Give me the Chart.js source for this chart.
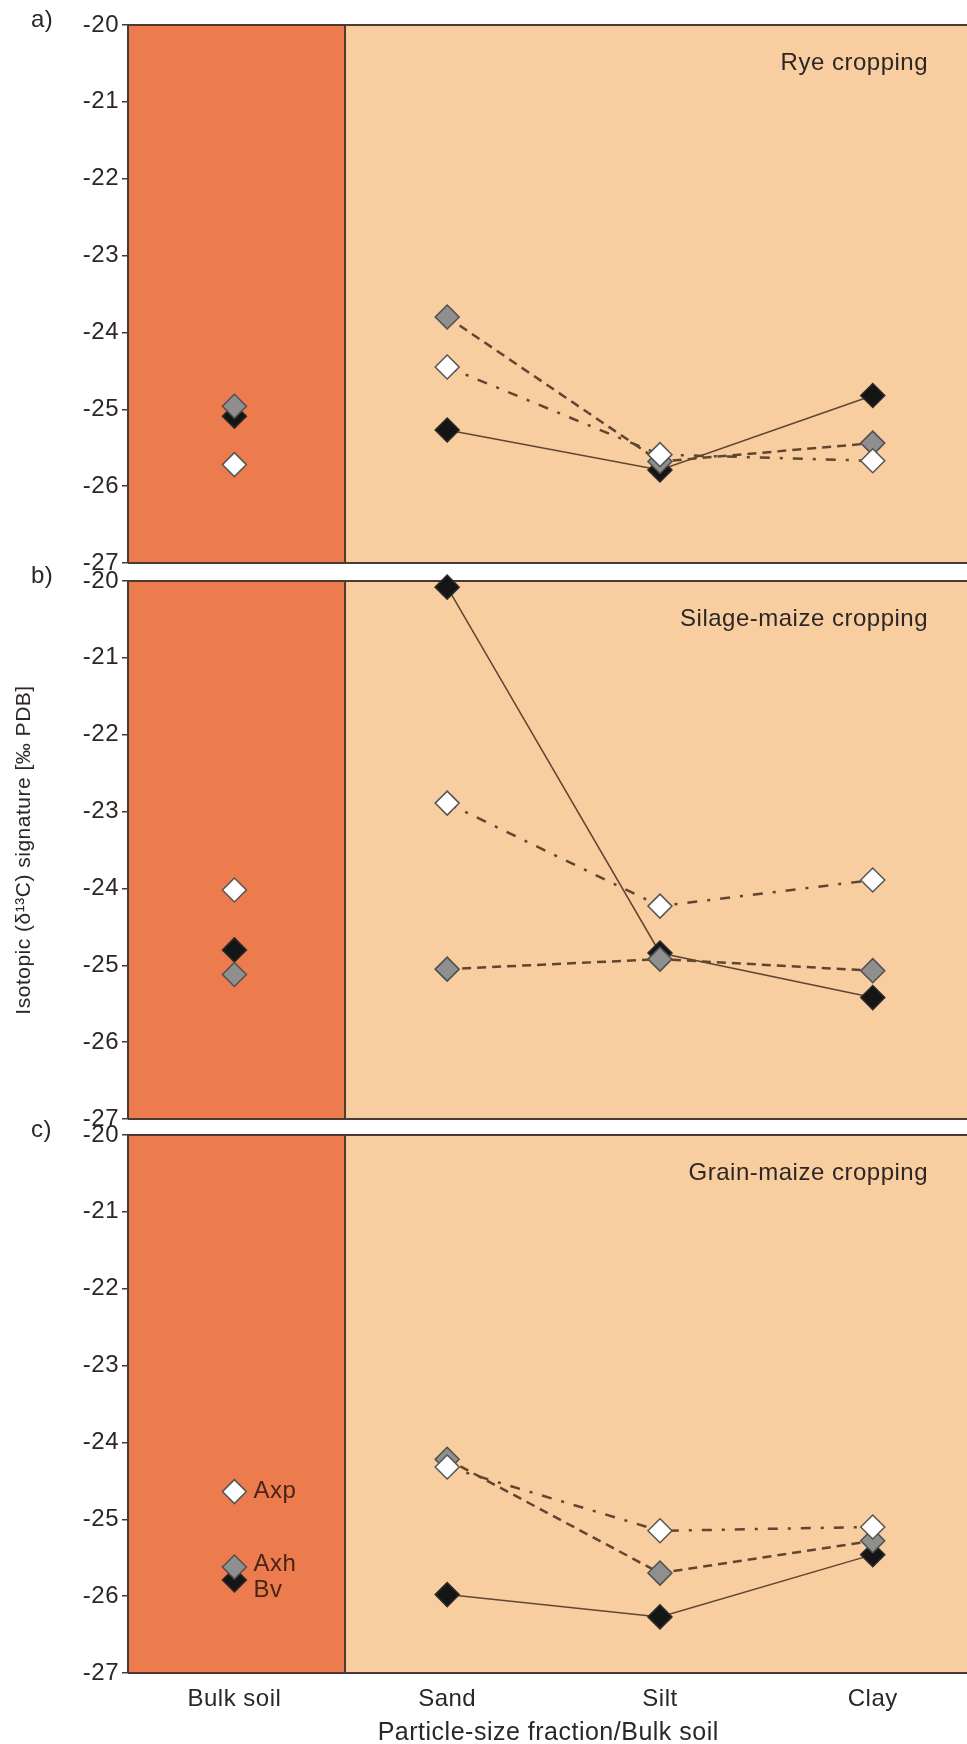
<!DOCTYPE html>
<html>
<head>
<meta charset="utf-8">
<script src="https://cdn.jsdelivr.net/npm/chart.js@4.4.1/dist/chart.umd.min.js"></script>
<style>
    html, body { margin: 0; padding: 0; background: #ffffff; width: 967px; height: 1744px; overflow: hidden; }
    .panel { position: absolute; left: 0; }
    canvas { display: block; }
</style>
</head>
<body>
<div class="panel" style="top:5px"><canvas id="panelA" width="982" height="578"></canvas></div>
<div class="panel" style="top:561px"><canvas id="panelB" width="982" height="578"></canvas></div>
<div class="panel" style="top:1115px"><canvas id="panelC" width="982" height="645"></canvas></div>
<script>
// Datos
const categories = ['Bulk soil', 'Sand', 'Silt', 'Clay'];
const panelTitles = ['Rye cropping', 'Silage-maize cropping', 'Grain-maize cropping'];
const panelLetters = ['a)', 'b)', 'c)'];
const horizons = ['Axp', 'Axh', 'Bv'];
const yTicks = [-20, -21, -22, -23, -24, -25, -26, -27];

// orden: Bulk soil, Sand, Silt, Clay
const ryeAxp = [-25.72, -24.45, -25.59, -25.67];
const ryeAxh = [-24.96, -23.80, -25.68, -25.44];
const ryeBv = [-25.09, -25.27, -25.79, -24.82];

const silageAxp = [-24.02, -22.89, -24.23, -23.89];
const silageAxh = [-25.12, -25.05, -24.92, -25.07];
const silageBv = [-24.80, -20.08, -24.84, -25.42];

const grainAxp = [-24.64, -24.32, -25.15, -25.10];
const grainAxh = [-25.62, -24.22, -25.70, -25.28];
const grainBv = [-25.79, -25.98, -26.27, -25.46];

const panelData = [
    { Axp: ryeAxp, Axh: ryeAxh, Bv: ryeBv },
    { Axp: silageAxp, Axh: silageAxh, Bv: silageBv },
    { Axp: grainAxp, Axh: grainAxh, Bv: grainBv }
];

// Estilos
const bulkColor = '#ec7c4d';
const fractionColor = '#f8cda0';
const frameColor = '#4a3b32';
const lineColor = '#604630';
const textColor = '#2c2724';
const bulkSplit = 0.52;
const fontFamily = "'Liberation Sans', Arial, sans-serif";

const horizonStyles = {
    Axp: { fill: '#ffffff', border: '#555555', dash: [10, 10, 3, 10], width: 2.5, order: 1, labelDy: 0 },
    Axh: { fill: '#8f8f8f', border: '#4f4f4f', dash: [9, 6], width: 2.5, order: 2, labelDy: -3 },
    Bv: { fill: '#151515', border: '#2a2a2a', dash: [], width: 1.5, order: 3, labelDy: 10 }
};

Chart.defaults.font.family = fontFamily;
Chart.defaults.color = textColor;

const panelPlugin = {
    id: 'panelDecor',
    beforeDraw(chart, args, opts) {
        const { ctx, chartArea: a, scales: { x } } = chart;
        const split = x.getPixelForValue(bulkSplit);
        // el texto original es más ancho: un poco de espaciado
        ctx.letterSpacing = '0.5px';
        ctx.save();
        ctx.fillStyle = bulkColor;
        ctx.fillRect(a.left, a.top, split - a.left, a.bottom - a.top);
        ctx.fillStyle = fractionColor;
        ctx.fillRect(split, a.top, a.right - split, a.bottom - a.top);
        ctx.restore();
    },
    beforeDatasetsDraw(chart) {
        const { ctx, chartArea: a, scales: { x } } = chart;
        const split = x.getPixelForValue(bulkSplit);
        ctx.save();
        ctx.strokeStyle = frameColor;
        ctx.lineWidth = 2;
        ctx.beginPath();
        ctx.moveTo(a.left, a.top);
        ctx.lineTo(a.right, a.top);
        ctx.moveTo(a.left, a.bottom);
        ctx.lineTo(a.right, a.bottom);
        ctx.moveTo(split, a.top);
        ctx.lineTo(split, a.bottom);
        ctx.stroke();
        ctx.restore();
    },
    afterDraw(chart, args, opts) {
        const { ctx, chartArea: a } = chart;
        ctx.save();
        ctx.fillStyle = textColor;
        ctx.font = '24px ' + fontFamily;
        ctx.textBaseline = 'middle';
        ctx.textAlign = 'right';
        ctx.fillText(opts.title, 928, a.top + 38);
        ctx.textAlign = 'left';
        ctx.fillText(opts.letter, 31, a.top - 5);

        // Etiquetas de horizontes junto a los puntos de suelo total
        if (opts.showLabels) {
            ctx.fillStyle = '#4a2418';
            chart.data.datasets.forEach((ds, i) => {
                const pt = chart.getDatasetMeta(i).data[0];
                ctx.fillText(ds.label, pt.x + 19, pt.y + horizonStyles[ds.label].labelDy);
            });
        }
        ctx.restore();
    }
};

function crearPanel(canvasId, index) {
    const datos = panelData[index];
    const esUltimo = index === 2;

    const datasets = horizons.map(h => {
        const st = horizonStyles[h];
        return {
            label: h,
            data: datos[h].map((v, i) => ({ x: i, y: v })),
            borderColor: lineColor,
            borderWidth: st.width,
            borderDash: st.dash,
            pointStyle: 'rectRot',
            pointRadius: 12,
            pointBorderWidth: 1.5,
            pointBackgroundColor: st.fill,
            pointBorderColor: st.border,
            tension: 0,
            clip: false,
            order: st.order,
            segment: {
                borderColor: ctx => ctx.p0DataIndex === 0 ? 'rgba(0,0,0,0)' : lineColor
            }
        };
    });

    const xScale = {
        type: 'linear',
        min: -0.5,
        max: 3.45,
        display: esUltimo,
        afterBuildTicks: s => { s.ticks = categories.map((c, i) => ({ value: i })); },
        ticks: {
            callback: v => categories[v],
            color: textColor,
            font: { size: 24 },
            padding: 12,
            maxRotation: 0,
            autoSkip: false
        },
        grid: { display: false, drawTicks: false },
        border: { display: false },
        title: {
            display: true,
            text: 'Particle-size fraction/Bulk soil',
            color: textColor,
            font: { size: 25 },
            padding: { top: 0, bottom: 12 }
        }
    };
    if (esUltimo) {
        xScale.afterFit = s => { s.height = 87; };
    }

    const yScale = {
        min: -27,
        max: -20,
        afterBuildTicks: s => { s.ticks = yTicks.map(v => ({ value: v })); },
        afterFit: s => { s.width = 128; },
        ticks: { color: textColor, font: { size: 24 }, padding: 3, autoSkip: false },
        grid: { drawOnChartArea: false, tickLength: 6, color: frameColor, lineWidth: 1.5 },
        border: { display: true, color: frameColor, width: 2 },
        title: {
            display: index === 1,
            text: 'Isotopic (δ¹³C) signature [‰ PDB]',
            color: textColor,
            font: { size: 21 },
            padding: { top: 12, bottom: 0 }
        }
    };

    return new Chart(document.getElementById(canvasId), {
        type: 'line',
        data: { datasets: datasets },
        options: {
            responsive: false,
            animation: false,
            devicePixelRatio: 1,
            layout: { padding: { top: 20, bottom: esUltimo ? 0 : 20, left: 0, right: 0 } },
            scales: { x: xScale, y: yScale },
            plugins: {
                legend: { display: false },
                tooltip: { enabled: false },
                panelDecor: {
                    title: panelTitles[index],
                    letter: panelLetters[index],
                    showLabels: esUltimo
                }
            }
        },
        plugins: [panelPlugin]
    });
}

document.addEventListener('DOMContentLoaded', function () {
    crearPanel('panelA', 0);
    crearPanel('panelB', 1);
    crearPanel('panelC', 2);
});
</script>
</body>
</html>
